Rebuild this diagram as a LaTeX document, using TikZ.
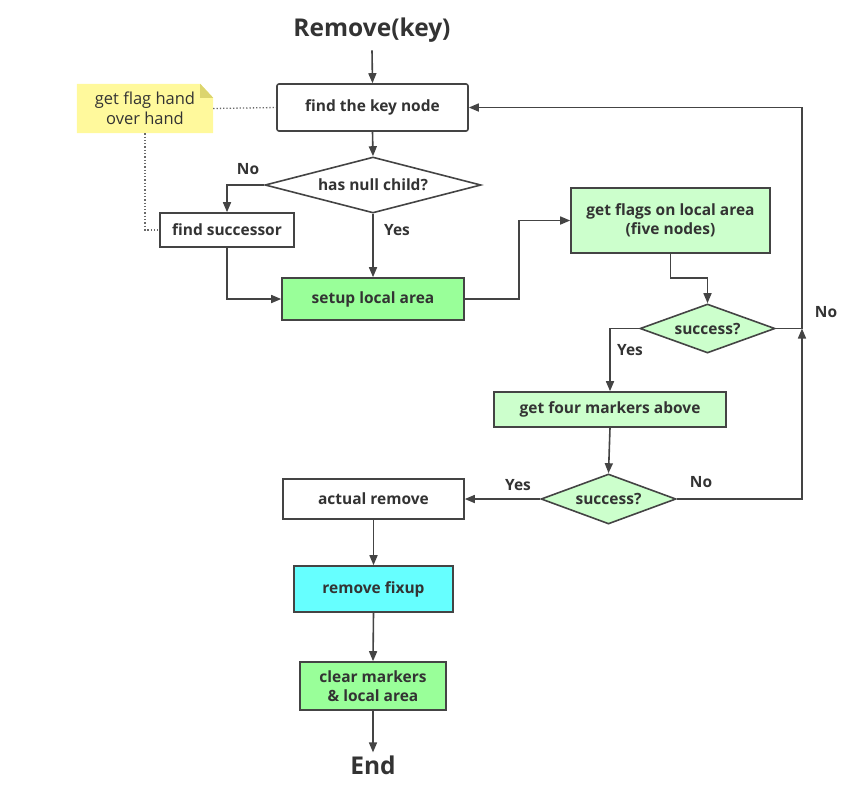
\documentclass[tikz,border=0pt]{standalone}
\usepackage{fontspec}
\setmainfont{Open Sans}
\usetikzlibrary{shapes.geometric,arrows.meta,calc}
\definecolor{txt}{HTML}{333333}
\definecolor{ln}{HTML}{444444}
\definecolor{gA}{HTML}{99FF99}
\definecolor{gB}{HTML}{CCFFCC}
\definecolor{cy}{HTML}{66FFFF}
\definecolor{ny}{HTML}{FFF99C}
\definecolor{nf}{HTML}{DCD56E}
\tikzset{
  base/.style={draw=ln, line width=1.6pt, text=txt, font=\bfseries\fontsize{15.5}{19}\selectfont, inner sep=0pt, align=center},
  box/.style={base, rectangle},
  dia/.style={base, diamond, aspect=2},
  arr/.style={draw=ln, line width=1.6pt, -{Triangle[length=10pt,width=8pt]}},
  dot/.style={draw=ln!80, line width=1.3pt, dotted},
  lbl/.style={text=txt, font=\bfseries\fontsize{15.5}{19}\selectfont, inner sep=0pt},
  big/.style={text=txt, font=\bfseries\fontsize{24.5}{29}\selectfont, inner sep=0pt}
}
\begin{document}
\begin{tikzpicture}[x=1pt,y=-1pt]
\useasboundingbox (0,0) rectangle (851,796);
\node[big] (title) at (372,30) {Remove(key)};
\node[box, rounded corners=2pt, fill=white, minimum width=191pt, minimum height=47pt] (key) at (372.5,107.5) {find the key node};
\node[inner sep=0pt, minimum width=136pt, minimum height=49pt] (note) at (145,108.5) {};
\fill[ny] (note.north west) -- ($(note.north east)+(-13,0)$) -- ($(note.north east)+(0,14)$) -- (note.south east) -- (note.south west) -- cycle;
\fill[nf] ($(note.north east)+(-13,0)$) -- ($(note.north east)+(-13,14)$) -- ($(note.north east)+(0,14)$) -- cycle;
\node[text=txt, font=\fontsize{16.5}{20}\selectfont, align=center, inner sep=0pt] (notetext) at (note.center) {get flag hand\\over hand};
\node[dia, fill=white, minimum width=216pt, minimum height=56pt, label={[lbl]center:has null child?}] (d1) at (373,185) {};
\node[box, fill=white, minimum width=134pt, minimum height=34pt] (succ) at (227,230) {find successor};
\node[box, fill=gA, minimum width=182pt, minimum height=42pt] (setup) at (373,299) {setup local area};
\node[box, fill=gB, minimum width=199pt, minimum height=65pt] (flags) at (670.5,220.5) {get flags on local area\\(five nodes)};
\node[dia, fill=gB, minimum width=135pt, minimum height=49pt, label={[lbl]center:success?}] (d2) at (707.5,328.5) {};
\node[box, fill=gB, minimum width=232pt, minimum height=35pt] (four) at (610,409.5) {get four markers above};
\node[dia, fill=gB, minimum width=135pt, minimum height=50pt, label={[lbl]center:success?}] (d3) at (608.5,499) {};
\node[box, fill=white, minimum width=181pt, minimum height=40pt] (act) at (373.5,499) {actual remove};
\node[box, fill=cy, minimum width=159pt, minimum height=46pt] (fix) at (373.5,589) {remove fixup};
\node[box, fill=gA, minimum width=146pt, minimum height=48pt] (clr) at (373,686) {clear markers\\\& local area};
\node[big] (end) at (373,765) {End};
\coordinate (jn) at (802,328.5);
% labels
\node[lbl] (l1) at (248,169) {No};
\node[lbl] (l2) at (397,230) {Yes};
\node[lbl] (l3) at (826,312) {No};
\node[lbl] (l4) at (630,350) {Yes};
\node[lbl] (l5) at (518,485) {Yes};
\node[lbl] (l6) at (701,482) {No};
% connectors
\draw[arr] (title.south) ++(0,8) -- (key.north);
\draw[arr] (key.south) -- (d1.north);
\draw[arr] (d1.west) -| (succ.north);
\draw[arr] (d1.south) -- (setup.north);
\draw[arr] (succ.south) |- (setup.west);
\draw[arr] (setup.east) -- ++(54,0) |- (flags.west);
\draw[arr] (flags.south) -- ++(0,24) -| (d2.north);
\draw[arr] (d2.west) -| (four.north);
\draw[arr] (four.south) -- (d3.north);
\draw[arr] (d3.west) -- (act.east);
\draw[arr] (d3.east) -| (jn);
\draw[arr] (d2.east) -- (jn) |- (key.east);
\draw[arr] (act.south) -- (fix.north);
\draw[arr] (fix.south) -- (clr.north);
\draw[arr] (clr.south) -- ($(end.north)+(0,-3)$);
\draw[dot] (note.east) -- (key.west);
\draw[dot] (note.south) |- (succ.west);
\end{tikzpicture}
\end{document}
